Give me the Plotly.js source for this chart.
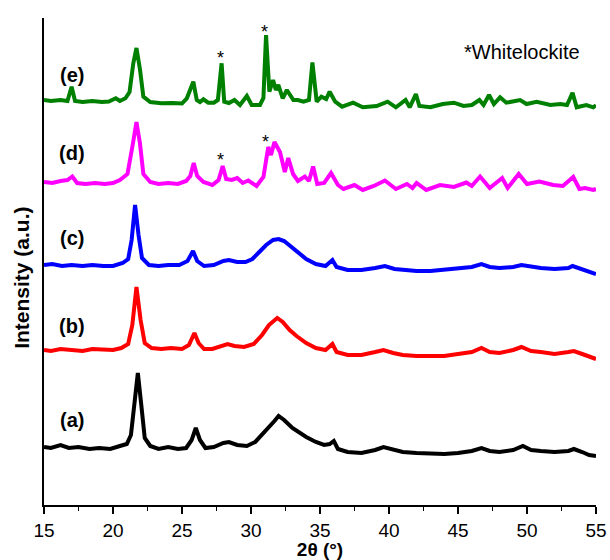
<!DOCTYPE html>
<html>
<head>
<meta charset="utf-8">
<script src="https://cdn.plot.ly/plotly-3.0.1.min.js"></script>
<style>html,body{margin:0;padding:0;background:#fff;}#chart{width:610px;height:560px;}</style>
</head>
<body>
<div id="chart"></div>
<script>
// ---- Data (2θ in degrees, intensity in arbitrary units, already stacked) ----
const x_a = [15,15.5,16.2,16.8,17.5,18.3,19,19.8,20.5,21.0,21.3,21.55,21.8,22.05,22.3,22.7,23.3,24,24.7,25.3,25.7,26.0,26.3,26.7,27.3,28,28.4,29,29.7,30.3,30.8,31.3,31.7,32.0,32.4,33.0,33.5,34.0,34.7,35.3,35.7,36.0,36.3,37,38,39,39.6,40.3,41,42,43,44,45,46,46.7,47.3,48,49,49.7,50.3,51,52,53,53.4,54,54.5,55];
const y_a = [58,57,60,57,58,56,57,56,59,61,70,100,132,100,67,59,56,58,56,57,65,77,65,57,58,62,63,60,59,63,70,77,84,89,85,77,72,68,63,60,61,64,56,53,52,55,58,55,53,52,51,51,52,54,57,54,53,55,59,55,54,53,54,56,53,50,49];

const x_b = [15,15.5,16.2,17,17.8,18.5,19.3,20,20.6,21.1,21.4,21.7,22.0,22.3,22.8,23.5,24.2,25,25.5,25.9,26.2,26.6,27.2,27.8,28.3,28.8,29.5,30.2,30.8,31.3,31.9,32.3,32.8,33.3,34,34.7,35.4,35.9,36.2,37,38,39,39.6,40.3,41,42,43,44,45,46,46.7,47.3,48,49,49.6,50.3,51,52,53,53.4,54,54.5,55];
const y_b = [155,154,156,155,154,156,155,155,157,161,180,218,185,162,157,156,157,156,160,172,162,156,156,159,161,159,158,161,170,180,187,183,175,169,162,157,155,161,153,150,150,153,155,152,150,149,149,149,151,153,157,153,152,155,158,154,153,151,153,154,151,148,146];

const x_c = [15,15.6,16.3,17,17.8,18.5,19.3,20,20.7,21.1,21.35,21.6,21.85,22.1,22.6,23.3,24,24.8,25.4,25.8,26.1,26.6,27.3,28,28.4,29,29.6,30.1,30.6,31.1,31.6,32.0,32.4,32.9,33.4,34,34.7,35.4,35.9,36.2,37,38,39,39.7,40.4,41,42,43,44,45,46,46.7,47.3,48,49,49.6,50.3,51,52,53,53.3,54,54.5,55];
const y_c = [240,241,239,240,239,240,239,239,242,246,265,300,270,247,240,239,240,240,244,254,244,239,240,244,245,243,243,246,253,260,265,266,264,258,252,246,241,239,245,238,235,235,237,239,236,235,234,234,235,236,238,241,238,237,238,240,238,237,236,237,239,236,233,231];

const x_d = [15,15.6,16.2,16.7,17.05,17.4,18,18.7,19.4,20,20.5,21.05,21.45,21.7,21.95,22.2,22.7,23.3,24,24.7,25.3,25.6,25.85,26.1,26.55,27.2,27.65,27.95,28.2,28.6,29.0,29.4,29.8,30.4,30.9,31.25,31.45,31.7,32.1,32.45,32.7,33.05,33.4,33.9,34.2,34.5,34.8,35.3,35.8,36.3,36.7,37.5,38.1,38.9,39.7,40.5,41.3,41.7,42.0,42.7,43.7,44.7,45.6,46.0,46.6,47.3,48.2,48.6,49.4,50.0,50.9,51.9,52.6,53.35,53.8,54.2,54.8,55];
const y_d = [323,322,324,325,328.5,322,321,322,321,322,325,331,362,383,362,331,323,321,322,321,324,329,342,329,323,320,325,339,326,325,327,322,324.5,319,328,358,350,363,353,333,347,331,324,328.5,324,338.5,321,322,332,320,316,320,315,319,324.5,316,321,317,322,315,320,318,322.5,319,328.5,317,327,317,331,321,323.5,320,319,328,316,317,315,316];

const x_e = [15,15.5,16.2,16.7,17.0,17.25,17.8,18.5,19.2,19.7,20.2,20.5,20.9,21.2,21.47,21.7,21.96,22.2,22.7,23.5,24.3,25,25.35,25.82,26.07,26.3,26.55,26.9,27.3,27.6,27.87,28.06,28.4,28.8,29.2,29.7,30.05,30.65,30.9,31.09,31.33,31.6,31.8,31.98,32.3,32.6,33.07,33.4,33.8,34.2,34.45,34.76,35.1,35.45,35.7,36.1,36.6,37.4,38.1,39.1,39.9,40.5,41.2,41.5,41.95,42.2,43.0,43.9,44.7,45.4,46.0,46.55,46.85,47.25,47.6,48.05,48.5,49.2,49.5,49.97,50.7,51.7,52.4,52.9,53.3,53.6,54.3,54.8,55];
const y_e = [405,404,405,404,418.3,404,403,404,403,403.5,406.7,404,406.7,413,441.7,457,435,408.3,403,401.7,402,401.5,406.7,423.3,405,403,405.7,402.3,402.3,405,441.7,403.3,402,405,400,409,400,400,407,470,413.3,425,415,420,406.7,415,405,405,403.3,405,442.5,403.3,408.3,406,413.3,403.3,398.3,402.3,397.7,399,403.3,397.7,405,397.7,411,399,397.7,401,402.3,399,400,405,400,410,401,407.7,402.3,404.3,405,401,403.3,400,401,400,412.3,397.7,400,397.7,399.7];

const sampleLabels = ["(a)", "(b)", "(c)", "(d)", "(e)"];
const labelY = [85, 179, 267, 352, 430];
const labelX = 17.05;
const starX = [27.8, 31.0, 27.8, 31.07];
const starY = [451.7, 478.3, 350, 368.3];
const legendText = "*Whitelockite";
const xTitle = "2θ (°)";
const yTitle = "Intensity (a.u.)";
const xTickVals = [15,20,25,30,35,40,45,50,55];

// ---- Styles ----
const FONT = 'Arial, "Liberation Sans", sans-serif';
const colors = ["#000000", "#ff0000", "#0000ff", "#ff00ff", "#008000"];
const series = [[x_a,y_a],[x_b,y_b],[x_c,y_c],[x_d,y_d],[x_e,y_e]];

const traces = series.map((s, i) => ({
  x: s[0], y: s[1], type: 'scatter', mode: 'lines',
  line: {color: colors[i], width: 4},
  hoverinfo: 'skip', showlegend: false
}));

const annotations = [];
sampleLabels.forEach((t, i) => annotations.push({
  x: labelX, y: labelY[i], xref: 'x', yref: 'y', text: t, showarrow: false,
  xanchor: 'center', yanchor: 'middle',
  font: {family: FONT, size: 20, color: '#000', weight: 'bold'}
}));
starX.forEach((sx, i) => annotations.push({
  x: sx, y: starY[i] - 5, xref: 'x', yref: 'y', text: '*', showarrow: false,
  xanchor: 'center', yanchor: 'middle',
  font: {family: FONT, size: 18, color: '#000'}
}));
annotations.push({
  x: 49.64, y: 453.3, xref: 'x', yref: 'y', text: legendText, showarrow: false,
  xanchor: 'center', yanchor: 'middle',
  font: {family: FONT, size: 20, color: '#000'}
});
// rotated y-axis title (sits slightly below the axis midpoint in the reference)
annotations.push({
  x: -0.042, y: 0.466, xref: 'paper', yref: 'paper', text: yTitle, showarrow: false,
  textangle: -90, xanchor: 'center', yanchor: 'middle',
  font: {family: FONT, size: 21, color: '#000', weight: 'bold'}
});

const layout = {
  width: 610, height: 560,
  margin: {l: 44, r: 14, t: 18, b: 55},
  paper_bgcolor: '#fff', plot_bgcolor: '#fff',
  font: {family: FONT, color: '#000'},
  xaxis: {
    range: [15, 55], tickvals: xTickVals, ticks: 'outside', ticklen: 7, tickwidth: 2,
    tickcolor: '#000', showline: true, linecolor: '#000', linewidth: 2,
    showgrid: false, zeroline: false, tickfont: {family: FONT, size: 19, color: '#000'},
    minor: {dtick: 2.5, tick0: 15, ticks: 'outside', ticklen: 4, tickwidth: 1.5, tickcolor: '#000', showgrid: false},
    title: {text: xTitle, font: {family: FONT, size: 19, color: '#000', weight: 'bold'}, standoff: 7}
  },
  yaxis: {
    range: [0, 487], showticklabels: false, ticks: '', showline: true, linecolor: '#000', linewidth: 2,
    showgrid: false, zeroline: false
  },
  annotations: annotations
};

Plotly.newPlot('chart', traces, layout, {displayModeBar: false, staticPlot: true});
</script>
</body>
</html>
